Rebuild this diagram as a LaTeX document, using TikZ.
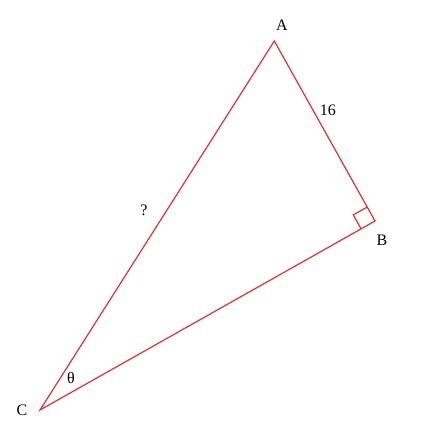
\documentclass[tikz,border=0pt]{standalone}
\usepackage{fontspec}
\setmainfont{Liberation Serif}
\usetikzlibrary{calc}
\begin{document}
\begin{tikzpicture}[x=0.75pt,y=-0.75pt,
  edge/.style={draw={rgb,255:red,220;green,50;blue,50}, line width=0.9pt},
  lbl/.style={inner sep=0pt, font=\fontsize{12}{14}\selectfont}]
\useasboundingbox (0,0) rectangle (422,437);
\coordinate (A) at (274.3,41);
\coordinate (B) at (375,221);
\coordinate (C) at (40,410);
\draw[edge] (A) -- (B) -- (C) -- cycle;
\coordinate (P) at ($(B)!12pt!(A)$);
\coordinate (R) at ($(B)!12pt!(C)$);
\coordinate (Q) at ($(P)+(R)-(B)$);
\draw[edge] (P) -- (Q) -- (R);
\node[lbl] (la) at (282,25) {A};
\node[lbl] (lb) at (382,240) {B};
\node[lbl] (lc) at (22,410) {C};
\node[lbl] (l16) at (328,110) {16};
\node[lbl] (lq) at (144,210) {?};
\node[lbl] (lt) at (71,378) {θ};
\end{tikzpicture}
\end{document}
